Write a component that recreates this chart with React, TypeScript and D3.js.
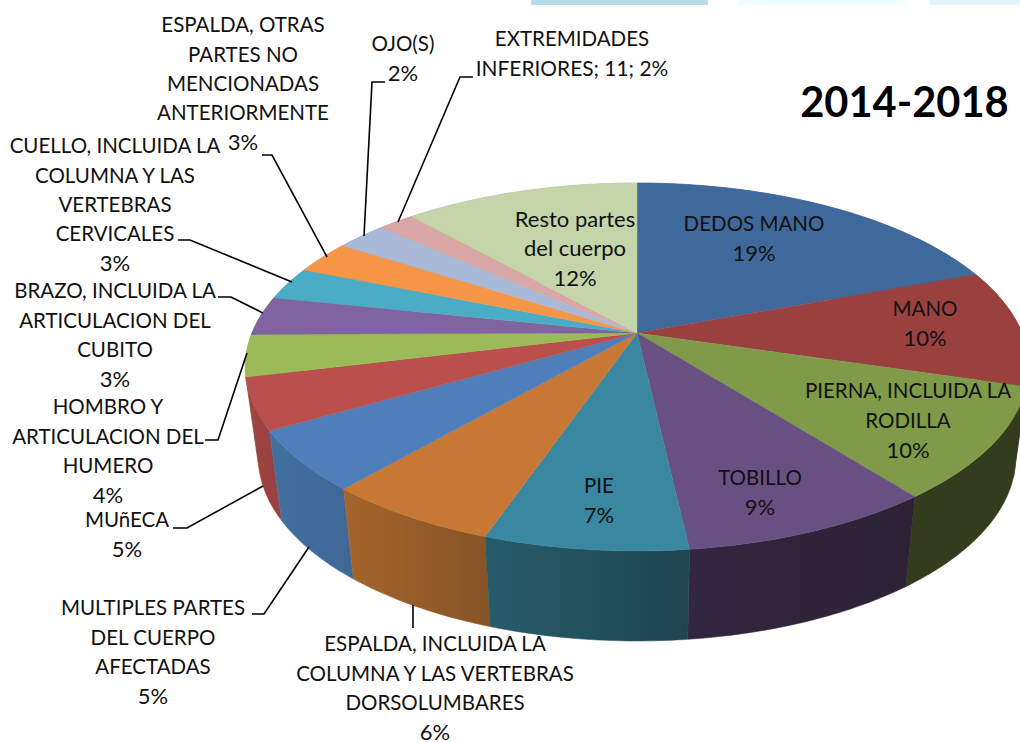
import React from "react";
import * as d3 from "d3";

const names = ["DEDOS MANO","MANO","PIERNA, INCLUIDA LA RODILLA","TOBILLO","PIE","ESPALDA, INCLUIDA LA COLUMNA Y LAS VERTEBRAS DORSOLUMBARES","MULTIPLES PARTES DEL CUERPO AFECTADAS","MUñECA","HOMBRO Y ARTICULACION DEL HUMERO","BRAZO, INCLUIDA LA ARTICULACION DEL CUBITO","CUELLO, INCLUIDA LA COLUMNA Y LAS VERTEBRAS CERVICALES","ESPALDA, OTRAS PARTES NO MENCIONADAS ANTERIORMENTE","OJO(S)","EXTREMIDADES INFERIORES","Resto partes del cuerpo"];
const values = [19.3,10.3,9.8,8.8,7.05,6.1,5.3,4.5,3.7,3.4,2.9,2.9,2.5,1.8,11.6];
const topColors = ["#3f689b","#9a4140","#7f9a48","#695083","#3a87a2","#c77835","#4e7fba","#bb4f4c","#9bbb59","#8064a2","#4bacc6","#f79646","#a9b9d8","#d8a7a6","#c4d5aa"];
const wallFrom = ["#3f689b","#7d3534","#333c1c","#33263f","#275c6a","#a5652c","#41709f","#a04543","#839e4b","#6c5489","#3f91a7","#d17e3a","#8f9cb6","#b68c8b","#a5b38f"];
const wallTo = ["#3f689b","#7d3534","#333c1c","#2c2234","#1f4551","#875426","#3f6897","#9a4241","#839e4b","#6c5489","#3f91a7","#d17e3a","#8f9cb6","#b68c8b","#a5b38f"];

type Block = { x: number; y: number; lines: string[] };
const labels: Block[] = [
  { x: 243, y: 25, lines: ["ESPALDA, OTRAS","PARTES NO","MENCIONADAS","ANTERIORMENTE","3%"] },
  { x: 403, y: 44, lines: ["OJO(S)","2%"] },
  { x: 572, y: 39, lines: ["EXTREMIDADES","INFERIORES; 11; 2%"] },
  { x: 115, y: 146, lines: ["CUELLO, INCLUIDA LA","COLUMNA Y LAS","VERTEBRAS","CERVICALES","3%"] },
  { x: 115, y: 291, lines: ["BRAZO, INCLUIDA LA","ARTICULACION DEL","CUBITO","3%"] },
  { x: 108, y: 407, lines: ["HOMBRO Y","ARTICULACION DEL","HUMERO","4%"] },
  { x: 127, y: 520, lines: ["MUñECA","5%"] },
  { x: 153, y: 608, lines: ["MULTIPLES PARTES","DEL CUERPO","AFECTADAS","5%"] },
  { x: 435, y: 644, lines: ["ESPALDA, INCLUIDA LA","COLUMNA Y LAS VERTEBRAS","DORSOLUMBARES","6%"] },
  { x: 575, y: 219, lines: ["Resto partes","del cuerpo","12%"] },
  { x: 754, y: 224, lines: ["DEDOS MANO","19%"] },
  { x: 925, y: 309, lines: ["MANO","10%"] },
  { x: 908, y: 391, lines: ["PIERNA, INCLUIDA LA","RODILLA","10%"] },
  { x: 760, y: 478, lines: ["TOBILLO","9%"] },
  { x: 599, y: 486, lines: ["PIE","7%"] },
];
const leaders: [number, number][][] = [
  [[262,155],[272,155],[327,257]],
  [[385,82],[372,82],[364,236]],
  [[473,77],[460,77],[398,222]],
  [[178,240],[190,240],[292,282]],
  [[218,297],[231,297],[263,313]],
  [[205,440],[218,440],[247,353]],
  [[173,528],[187,528],[263,486]],
  [[252,614],[264,614],[309,547]],
  [[413,605],[413,628]],
];
const strips = [
  { x: 531, w: 177, c: "#b5deea" },
  { x: 738, w: 167, c: "#f0fcfd" },
  { x: 930, w: 90, c: "#dff5fb" },
];

const CX = 637, CY = 333, R = 385, S = 177.7, K = 0.1848, DEPTH = 90, WALL_SCALE = 379 / 392;
const project = (a: number): [number, number] => {
  const u = Math.sin(a), v = -Math.cos(a), w = 1 - K * v;
  return [CX + (R * u) / w, CY + (S * v) / w];
};
const lower = ([x, y]: [number, number]): [number, number] => [CX + (x - CX) * WALL_SCALE, y + DEPTH];
const line = d3.line<[number, number]>();
const sizeOf = (t: string) => (/[a-z]/.test(t.replace("MUñECA", "")) || /^\d+%$/.test(t) ? 22 : /\d/.test(t) ? 20.9 : 20.5);

export default function App() {
  const arcs = d3.pie<number>().sort(null).startAngle(0).endAngle(2 * Math.PI)(values);
  const slices = arcs.map((d, i) => {
    const n = Math.max(6, Math.ceil((d.endAngle - d.startAngle) * 60));
    const rim = d3.range(n + 1).map((k) => project(d.startAngle + ((d.endAngle - d.startAngle) * k) / n));
    return { i, rim, meanY: d3.mean(rim, (p) => p[1]) as number };
  });
  const ordered = [...slices].sort((a, b) => a.meanY - b.meanY);
  return (
    <svg width={1020} height={742} style={{ position: "absolute", left: 0, top: 0, background: "#fff" }} fontFamily="Lato, Carlito, sans-serif">
      <defs>
        {slices.map((s) => {
          const ext = d3.extent(s.rim, (p) => p[0]) as [number, number];
          return (
            <linearGradient key={s.i} id={`w${s.i}`} gradientUnits="userSpaceOnUse" x1={ext[0]} x2={ext[1]} y1={0} y2={0}>
              <stop offset="0" stopColor={wallFrom[s.i]} />
              <stop offset="1" stopColor={wallTo[s.i]} />
            </linearGradient>
          );
        })}
      </defs>
      {strips.map((b) => (
        <rect key={b.x} x={b.x} y={0} width={b.w} height={5} fill={b.c} />
      ))}
      {ordered.map((s) => (
        <path key={s.i} d={(line([...s.rim, ...s.rim.map(lower).reverse()]) as string) + "Z"} fill={`url(#w${s.i})`} stroke={`url(#w${s.i})`} strokeWidth={0.5} />
      ))}
      {slices.map((s) => (
        <path key={s.i} d={(line([[CX, CY], ...s.rim]) as string) + "Z"} fill={topColors[s.i]} stroke={topColors[s.i]} strokeWidth={0.4} />
      ))}
      {leaders.map((l, i) => (
        <path key={i} d={line(l) as string} fill="none" stroke="#000" strokeWidth={1.6} />
      ))}
      {labels.map((b, i) => (
        <text key={i} textAnchor="middle" fill="#111">
          {b.lines.map((t, j) => (
            <tspan key={j} x={b.x} y={b.y + j * 29.4} dy="0.35em" fontSize={sizeOf(t)}>{t}</tspan>
          ))}
        </text>
      ))}
      <text x={904.5} y={102} dy="0.35em" textAnchor="middle" fontSize={41.6} fontWeight={700} fill="#000">2014-2018</text>
    </svg>
  );
}
